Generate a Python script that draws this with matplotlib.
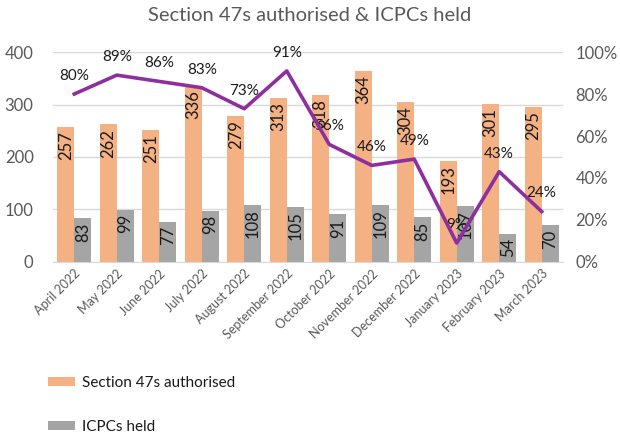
import matplotlib.pyplot as plt
import numpy as np
from matplotlib.ticker import PercentFormatter

months = ['April 2022', 'May 2022', 'June 2022', 'July 2022', 'August 2022',
          'September 2022', 'October 2022', 'November 2022', 'December 2022',
          'January 2023', 'February 2023', 'March 2023']
s47_authorised = [257, 262, 251, 336, 279, 313, 318, 364, 304, 193, 301, 295]
icpcs_held = [83, 99, 77, 98, 108, 105, 91, 109, 85, 107, 54, 70]
pct_held = [80, 89, 86, 83, 73, 91, 56, 46, 49, 9, 43, 24]

orange = '#F4B183'
grey = '#A5A5A5'
purple = '#8E2FA0'
text_col = '#595959'

plt.rcParams['font.family'] = ['Lato', 'DejaVu Sans']

fig = plt.figure(figsize=(6.2, 4.41), dpi=100)
ax = fig.add_axes([0.0855, 0.406, 0.8225, 0.476])
ax2 = ax.twinx()

x = np.arange(len(months))
w = 0.4
b1 = ax.bar(x - w / 2, s47_authorised, w, color=orange, label='Section 47s authorised', zorder=2)
b2 = ax.bar(x + w / 2, icpcs_held, w, color=grey, label='ICPCs held', zorder=2)

for bars, vals in [(b1, s47_authorised), (b2, icpcs_held)]:
    for r, v in zip(bars, vals):
        ax.annotate(str(v), (r.get_x() + r.get_width() / 2, v), xytext=(0, -3),
                    textcoords='offset points', rotation=90, ha='center', va='top',
                    fontsize=12, color='#1a1a1a', zorder=3)

ax.set_xlim(-0.5, len(months) - 0.5)
ax.set_ylim(0, 400)
ax.set_yticks([0, 100, 200, 300, 400])
ax.grid(axis='y', color='#D9D9D9', linewidth=1, zorder=0)
ax.set_axisbelow(True)
ax.set_xticks(x)
ax.set_xticklabels(months, rotation=45, ha='right', rotation_mode='anchor', fontsize=9, color=text_col)
ax.tick_params(axis='y', labelsize=12, labelcolor=text_col, length=0, pad=14)
ax.tick_params(axis='x', length=0, pad=4)
for s in ['top', 'right', 'left']:
    ax.spines[s].set_visible(False)
ax.spines['bottom'].set_color('#D9D9D9')

ax2.plot(x, pct_held, color=purple, linewidth=2.6, zorder=4)
for xi, p in zip(x, pct_held):
    ax2.annotate(f'{p}%', (xi, p), xytext=(0, 8), textcoords='offset points',
                 ha='center', va='bottom', fontsize=11, color='#1a1a1a')
ax2.set_ylim(0, 100)
ax2.set_yticks([0, 20, 40, 60, 80, 100])
ax2.yaxis.set_major_formatter(PercentFormatter(decimals=0))
ax2.tick_params(axis='y', labelsize=12, labelcolor=text_col, length=0, pad=9)
for s in ax2.spines.values():
    s.set_visible(False)

fig.suptitle('Section 47s authorised & ICPCs held', fontsize=14.5, color=text_col, y=0.985)

leg = fig.legend(handles=[b1, b2], loc='upper left', bbox_to_anchor=(0.065, 1 - 368 / 441),
                 frameon=False, fontsize=11, labelspacing=2.0, handlelength=1.8,
                 handleheight=0.5, handletextpad=0.45, borderpad=0, labelcolor='#1a1a1a')

fig.savefig('out.png', dpi=100)
